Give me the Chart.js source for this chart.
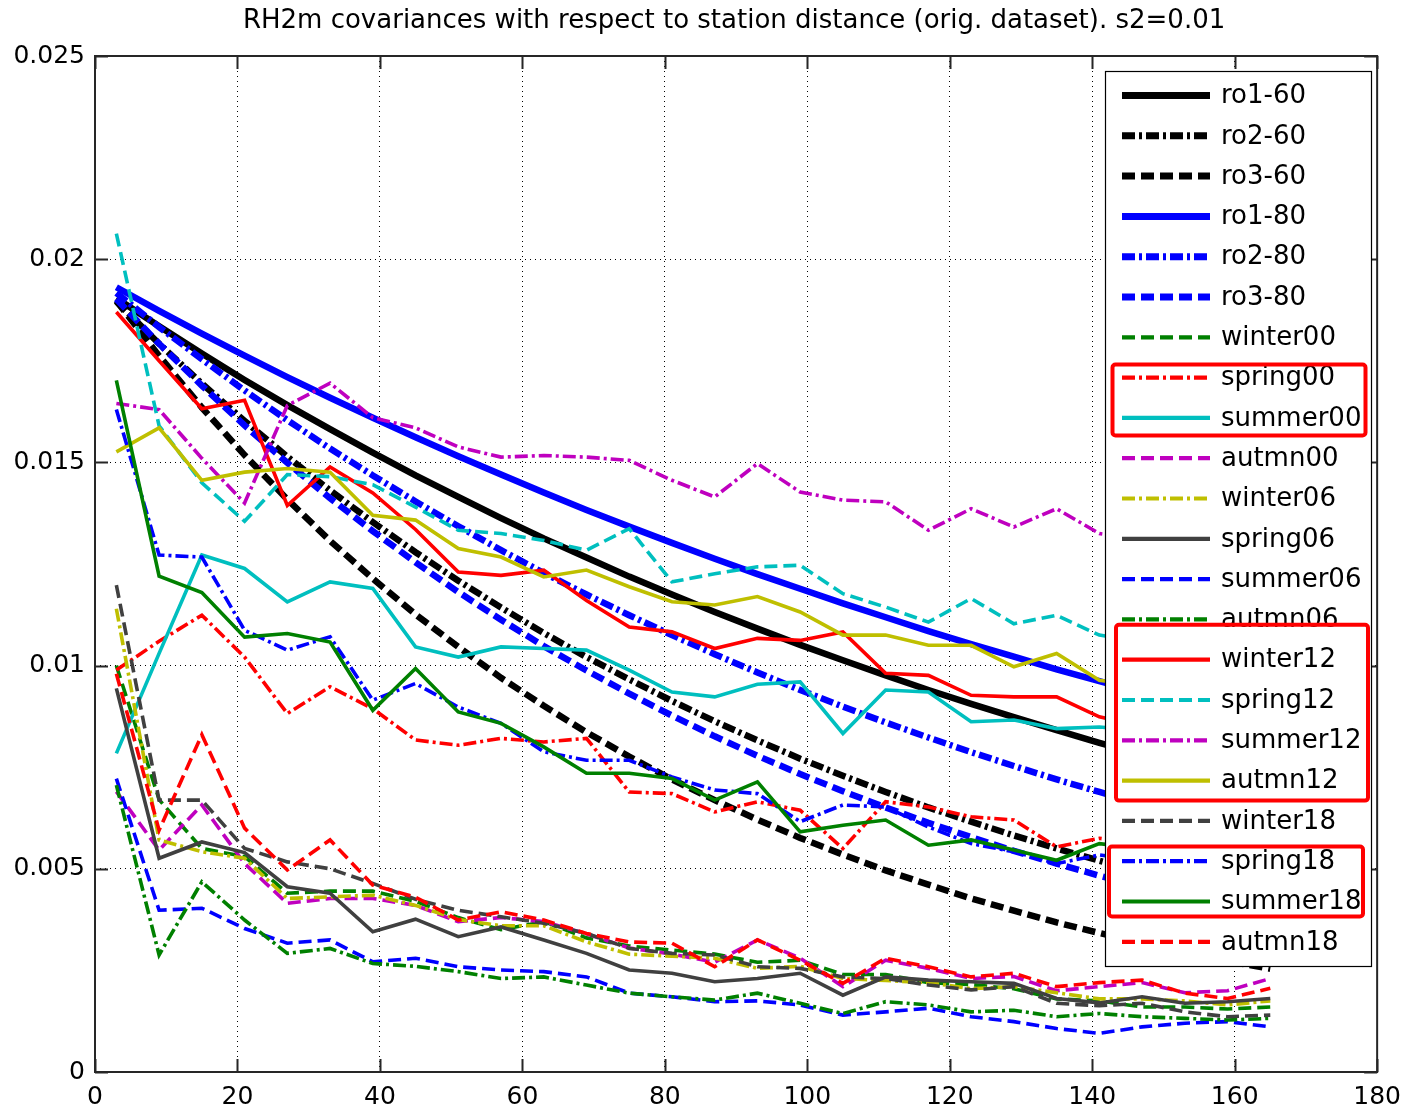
<!DOCTYPE html>
<html><head><meta charset="utf-8">
<script src="https://cdn.jsdelivr.net/npm/chart.js@4/dist/chart.umd.min.js"></script>
<style>html,body{margin:0;padding:0;background:#fff}#wrap{width:1411px;height:1111px;position:relative}</style>
</head><body><div id="wrap"><canvas id="c" width="1411" height="1111"></canvas></div>
<script>
// ---------- DATA ----------
const titleText = 'RH2m covariances with respect to station distance (orig. dataset). s2=0.01';
const xValues = [3,9,15,21,27,33,39,45,51,57,63,69,75,81,87,93,99,105,111,117,123,129,135,141,147,153,159,165];
const xTickValues = [0,20,40,60,80,100,120,140,160,180];
const yTickValues = [0,0.005,0.01,0.015,0.02,0.025];
const yTickLabels = ['0','0.005','0.01','0.015','0.02','0.025'];

const ro1_60 = [0.01904,0.01835,0.01768,0.01703,0.01641,0.01582,0.01524,0.01468,0.01415,0.01363,0.01313,0.01266,0.01219,0.01175,0.01132,0.01091,0.01051,0.01013,0.00976,0.00940,0.00906,0.00873,0.00841,0.00810,0.00781,0.00752,0.00725,0.00698];
const ro2_60 = [0.01896,0.01792,0.01694,0.01602,0.01514,0.01431,0.01353,0.01279,0.01209,0.01143,0.01080,0.01021,0.00966,0.00913,0.00863,0.00816,0.00771,0.00729,0.00689,0.00651,0.00616,0.00582,0.00550,0.00520,0.00492,0.00465,0.00439,0.00415];
const ro3_60 = [0.01898,0.01762,0.01635,0.01518,0.01409,0.01307,0.01214,0.01126,0.01046,0.00970,0.00901,0.00836,0.00776,0.00720,0.00669,0.00621,0.00576,0.00535,0.00496,0.00461,0.00427,0.00397,0.00368,0.00342,0.00317,0.00294,0.00273,0.00254];
const ro1_80 = [0.01931,0.01873,0.01817,0.01763,0.01710,0.01659,0.01610,0.01562,0.01515,0.01470,0.01426,0.01383,0.01342,0.01302,0.01263,0.01225,0.01189,0.01153,0.01119,0.01085,0.01053,0.01022,0.00991,0.00962,0.00933,0.00905,0.00878,0.00852];
const ro2_80 = [0.01917,0.01833,0.01754,0.01677,0.01604,0.01534,0.01468,0.01404,0.01343,0.01284,0.01228,0.01175,0.01124,0.01075,0.01028,0.00983,0.00940,0.00899,0.00860,0.00823,0.00787,0.00753,0.00720,0.00689,0.00659,0.00630,0.00603,0.00576];
const ro3_80 = [0.01902,0.01792,0.01689,0.01591,0.01499,0.01412,0.01331,0.01254,0.01181,0.01113,0.01048,0.00988,0.00931,0.00877,0.00826,0.00778,0.00733,0.00691,0.00651,0.00613,0.00578,0.00544,0.00513,0.00483,0.00455,0.00429,0.00404,0.00381];
const winter00 = [0.0100,0.0067,0.0055,0.0053,0.0044,0.00445,0.00445,0.0042,0.0038,0.0035,0.0037,0.0033,0.0031,0.0030,0.0029,0.0027,0.00275,0.0024,0.0024,0.0022,0.00215,0.00205,0.0018,0.00175,0.0016,0.0016,0.00155,0.0016];
const spring00 = [0.00989,0.0106,0.01124,0.01021,0.00882,0.00948,0.00894,0.00817,0.00804,0.00821,0.00812,0.00821,0.00689,0.00685,0.0064,0.00665,0.00644,0.0055,0.00665,0.00652,0.00628,0.0062,0.00554,0.00575,0.0056,0.0055,0.0054,0.0053];
const summer00 = [0.00784,0.0103,0.01272,0.01239,0.01157,0.01206,0.0119,0.01046,0.01021,0.01046,0.01042,0.01038,0.00989,0.00935,0.00923,0.00954,0.0096,0.00833,0.0094,0.00935,0.00862,0.00866,0.00845,0.00849,0.0084,0.0083,0.0082,0.0081];
const autmn00 = [0.0069,0.00546,0.00657,0.00513,0.00415,0.00427,0.00427,0.0041,0.0037,0.0038,0.0037,0.0034,0.00305,0.0029,0.0027,0.00325,0.0028,0.0021,0.00275,0.00255,0.0023,0.00235,0.0020,0.0021,0.0022,0.00195,0.0020,0.0023];
const winter06 = [0.0114,0.00571,0.00542,0.00526,0.00427,0.00431,0.00435,0.0041,0.00375,0.0036,0.0036,0.0032,0.0029,0.00285,0.0028,0.00255,0.0026,0.0023,0.00225,0.0022,0.00205,0.0021,0.00195,0.0018,0.0018,0.00175,0.00165,0.00175];
const spring06 = [0.00944,0.00526,0.00566,0.0054,0.00456,0.0044,0.00345,0.00376,0.00333,0.00357,0.00325,0.00292,0.00251,0.00243,0.00222,0.0023,0.00243,0.00189,0.00234,0.00226,0.00222,0.00218,0.00181,0.0017,0.00185,0.00169,0.00173,0.00181];
const summer06 = [0.00722,0.00398,0.00403,0.00353,0.00317,0.00325,0.00271,0.0028,0.00259,0.00251,0.00247,0.00234,0.00194,0.00185,0.00173,0.00175,0.00165,0.0014,0.00148,0.00157,0.00136,0.00124,0.00107,0.00095,0.00111,0.0012,0.00124,0.00111];
const autmn06 = [0.00706,0.00288,0.00468,0.00374,0.00292,0.00304,0.00267,0.0026,0.00247,0.0023,0.00234,0.00214,0.00194,0.00185,0.00177,0.00194,0.00169,0.00144,0.00173,0.00165,0.00148,0.00152,0.00136,0.00144,0.00136,0.00132,0.00128,0.00132];
const winter12 = [0.0187,0.0175,0.01632,0.01653,0.01394,0.01489,0.01425,0.01335,0.0123,0.01222,0.01235,0.0116,0.01095,0.01083,0.01042,0.01067,0.01062,0.01083,0.00981,0.00976,0.00927,0.00923,0.00923,0.00874,0.0085,0.0083,0.0082,0.0080];
const spring12 = [0.02063,0.0159,0.0145,0.01355,0.0147,0.01465,0.01445,0.0139,0.01333,0.01325,0.01308,0.01284,0.01337,0.01206,0.01226,0.01243,0.01247,0.01177,0.01144,0.01107,0.01165,0.01103,0.01124,0.01075,0.0106,0.0105,0.0104,0.0102];
const summer12 = [0.01645,0.0163,0.0151,0.0140,0.0164,0.01695,0.0161,0.01585,0.01538,0.01513,0.01517,0.01513,0.01505,0.01456,0.01415,0.01497,0.01427,0.01407,0.01403,0.01333,0.01386,0.01341,0.01386,0.01325,0.0131,0.0130,0.0129,0.0128];
const autmn12 = [0.01526,0.01585,0.01456,0.01476,0.01485,0.01476,0.0137,0.01358,0.01288,0.01267,0.01218,0.01235,0.01194,0.01157,0.01149,0.0117,0.01132,0.01075,0.01075,0.0105,0.0105,0.00997,0.0103,0.00964,0.0095,0.0094,0.0093,0.0092];
const winter18 = [0.01198,0.00669,0.00669,0.0055,0.00517,0.0050,0.00464,0.00425,0.00398,0.00382,0.00366,0.00341,0.00304,0.00292,0.00288,0.00259,0.00255,0.00234,0.0023,0.00214,0.00202,0.0021,0.00169,0.00163,0.00169,0.00148,0.00136,0.0014];
const spring18 = [0.0163,0.01272,0.01267,0.01087,0.01038,0.01071,0.00915,0.00956,0.00898,0.00858,0.00788,0.00767,0.00767,0.00726,0.00694,0.00685,0.00616,0.00657,0.00652,0.00603,0.00562,0.00542,0.00513,0.00534,0.0052,0.0051,0.0050,0.0049];
const summer18 = [0.01702,0.0122,0.0118,0.0107,0.01079,0.01058,0.0089,0.00993,0.00886,0.00858,0.0080,0.00735,0.00735,0.00722,0.00669,0.00714,0.00591,0.00607,0.0062,0.00558,0.00571,0.00546,0.00521,0.00562,0.0055,0.0054,0.0053,0.0052];
const autmn18 = [0.0098,0.00595,0.0083,0.0060,0.00497,0.00571,0.0046,0.0043,0.00374,0.00394,0.00374,0.00341,0.0032,0.00317,0.00259,0.00325,0.00275,0.00218,0.0028,0.00259,0.00234,0.00243,0.0021,0.0022,0.00226,0.00194,0.00181,0.00206];

const seriesLabels = ['ro1-60','ro2-60','ro3-60','ro1-80','ro2-80','ro3-80','winter00','spring00','summer00','autmn00','winter06','spring06','summer06','autmn06','winter12','spring12','summer12','autmn12','winter18','spring18','summer18','autmn18'];
const seriesValues = [ro1_60,ro2_60,ro3_60,ro1_80,ro2_80,ro3_80,winter00,spring00,summer00,autmn00,winter06,spring06,summer06,autmn06,winter12,spring12,summer12,autmn12,winter18,spring18,summer18,autmn18];

// ---------- STYLE ----------
const K='#000000', B='#0000FF', G='#008000', R='#FF0000', C='#00BFBF', M='#BF00BF', Y='#BFBF00', D='#404040';
const seriesColors = [K,K,K,B,B,B,G,R,C,M,Y,D,B,G,R,C,M,Y,D,B,G,R];
const seriesStyles = ['-','-.','--','-','-.','--','--','-.','-','--','-.','-','--','-.','-','--','-.','-','--','-.','-','--'];
const seriesWidths = [6.5,6.5,6.5,6.5,6.5,6.5,3.6,3.6,3.6,3.6,3.6,3.6,3.6,3.6,3.6,3.6,3.6,3.6,3.6,3.6,3.6,3.6];
const dashFor = {'-':[], '--':[13,6], '-.':[13,4,3,4]};
const legendBox = {left:1105, top:71, right:1371, bottom:966, firstRow:24.5, rowStep:40.3, lineX1:1122, lineX2:1210, textX:1221};
const highlightBoxes = [
  {from:7, to:8, dx1:7.5, dx2:-5.5, dTop:-13, dBot:17.5},
  {from:14, to:17, dx1:11, dx2:-3, dTop:-35, dBot:20},
  {from:19, to:20, dx1:4, dx2:-8, dTop:-14.7, dBot:15}
];
const FONT = 'DejaVu Sans, sans-serif';

const N = seriesLabels.length;
const datasets = seriesLabels.map((lab, i) => ({
  label: lab,
  data: xValues.map((x, j) => ({x: x, y: seriesValues[i][j]})),
  borderColor: seriesColors[i],
  backgroundColor: seriesColors[i],
  borderWidth: seriesWidths[i],
  borderDash: dashFor[seriesStyles[i]],
  borderCapStyle: 'butt',
  borderJoinStyle: 'miter',
  pointRadius: 0,
  tension: 0,
  fill: false,
  order: N - 1 - i
}));

const titlePlugin = {
  id: 'mtitle',
  afterDraw(chart) {
    const ctx = chart.ctx, a = chart.chartArea;
    ctx.save();
    ctx.font = '26px ' + FONT;
    ctx.fillStyle = '#000';
    ctx.textAlign = 'center';
    ctx.textBaseline = 'middle';
    ctx.fillText(titleText, (a.left + a.right) / 2 - 2, 21);
    ctx.restore();
  }
};

const framePlugin = {
  id: 'frame',
  afterDatasetsDraw(chart) {
    const ctx = chart.ctx, a = chart.chartArea;
    const xs = chart.scales.x, ys = chart.scales.y;
    ctx.save();
    ctx.strokeStyle = '#262626';
    ctx.lineWidth = 2;
    ctx.setLineDash([]);
    ctx.beginPath();
    xTickValues.forEach(v => {
      const px = Math.round(xs.getPixelForValue(v)) + 0.5;
      ctx.moveTo(px, a.bottom); ctx.lineTo(px, a.bottom - 13);
      ctx.moveTo(px, a.top); ctx.lineTo(px, a.top + 13);
    });
    yTickValues.forEach(v => {
      const py = Math.round(ys.getPixelForValue(v)) + 0.5;
      ctx.moveTo(a.left, py); ctx.lineTo(a.left + 13, py);
      ctx.moveTo(a.right, py); ctx.lineTo(a.right - 13, py);
    });
    ctx.stroke();
    ctx.strokeRect(a.left, a.top, a.right - a.left, a.bottom - a.top);
    ctx.restore();
  }
};

const legendPlugin = {
  id: 'mlegend',
  afterDraw(chart) {
    const ctx = chart.ctx, L = legendBox;
    const rowY = i => L.top + L.firstRow + i * L.rowStep;
    ctx.save();
    ctx.fillStyle = '#fff';
    ctx.fillRect(L.left, L.top, L.right - L.left, L.bottom - L.top);
    ctx.strokeStyle = '#000';
    ctx.lineWidth = 1.2;
    ctx.setLineDash([]);
    ctx.strokeRect(L.left + 0.5, L.top + 0.5, L.right - L.left, L.bottom - L.top);
    chart.data.datasets.forEach((ds, i) => {
      const y = rowY(i);
      ctx.strokeStyle = ds.borderColor;
      ctx.lineWidth = ds.borderWidth >= 6 ? 7 : 4.2;
      ctx.lineCap = 'butt';
      ctx.setLineDash(ds.borderDash || []);
      ctx.beginPath();
      ctx.moveTo(L.lineX1, y);
      ctx.lineTo(L.lineX2, y);
      ctx.stroke();
      ctx.setLineDash([]);
      ctx.fillStyle = '#000';
      ctx.font = '26px ' + FONT;
      ctx.textAlign = 'left';
      ctx.textBaseline = 'middle';
      ctx.fillText(ds.label, L.textX, y + 1);
    });
    ctx.strokeStyle = '#FF0000';
    ctx.lineWidth = 4;
    ctx.lineJoin = 'round';
    highlightBoxes.forEach(h => {
      const x1 = L.left + h.dx1, x2 = L.right + h.dx2;
      const y1 = rowY(h.from) + h.dTop, y2 = rowY(h.to) + h.dBot;
      ctx.beginPath();
      ctx.roundRect(x1, y1, x2 - x1, y2 - y1, 3);
      ctx.stroke();
    });
    ctx.restore();
  }
};

new Chart(document.getElementById('c'), {
  type: 'line',
  data: { datasets },
  options: {
    responsive: false,
    animation: false,
    devicePixelRatio: 1,
    layout: { padding: { left: 0, top: 56, right: 29, bottom: 0 } },
    plugins: { legend: { display: false }, title: { display: false }, tooltip: { enabled: false } },
    scales: {
      x: {
        type: 'linear', min: 0, max: 180,
        afterBuildTicks: s => { s.ticks = xTickValues.map(v => ({value: v})); },
        afterFit: s => { s.height = 39; },
        ticks: { color: '#000', font: { family: FONT, size: 25 }, padding: 10, maxRotation: 0, autoSkip: false },
        grid: { color: '#000', lineWidth: 1, drawTicks: false },
        border: { display: false, dash: [1, 4] }
      },
      y: {
        type: 'linear', min: 0, max: 0.025,
        afterBuildTicks: s => { s.ticks = yTickValues.map(v => ({value: v})); },
        afterFit: s => { s.width = 95; },
        ticks: { color: '#000', font: { family: FONT, size: 25 }, padding: 10, autoSkip: false,
                 callback: (v, i) => yTickLabels[i] },
        grid: { color: '#000', lineWidth: 1, drawTicks: false },
        border: { display: false, dash: [1, 4] }
      }
    }
  },
  plugins: [titlePlugin, framePlugin, legendPlugin]
});
</script></body></html>
